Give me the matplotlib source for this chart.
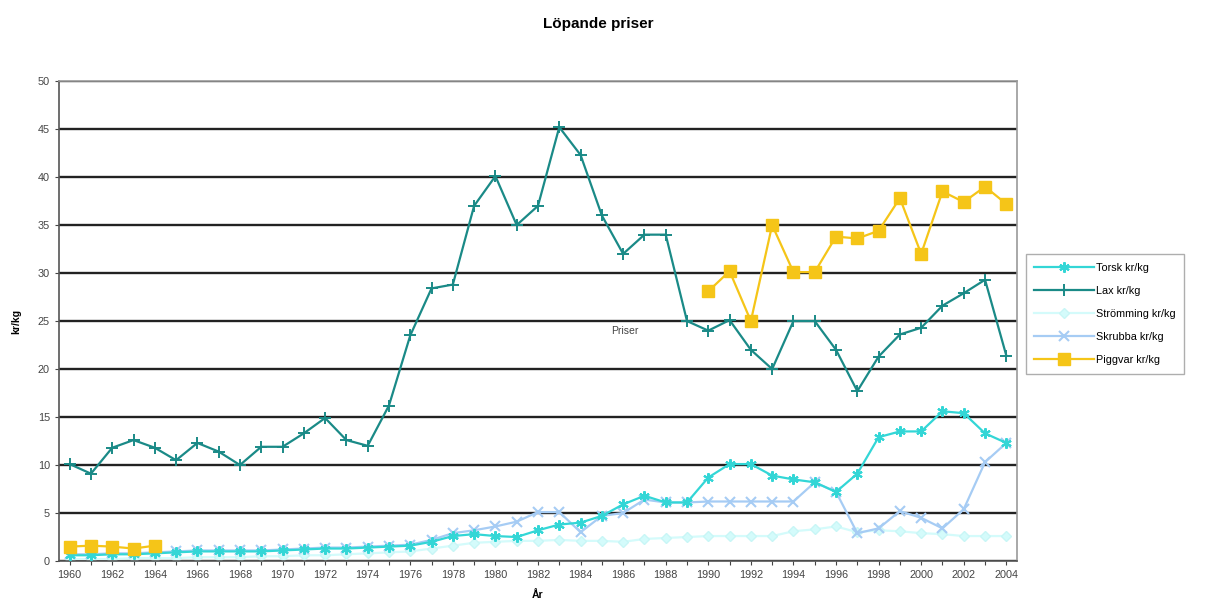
import numpy as np
import matplotlib
matplotlib.use("Agg")
import matplotlib.pyplot as plt

years = list(range(1960, 2005))
nan = np.nan

torsk = [0.6, 0.6, 0.7, 0.7, 0.8, 0.9, 1.0, 1.0, 1.0, 1.0, 1.1, 1.2, 1.3, 1.3, 1.4,
         1.5, 1.6, 2.0, 2.6, 2.8, 2.6, 2.5, 3.2, 3.8, 4.0, 4.7, 5.9, 6.8, 6.1, 6.1,
         8.7, 10.1, 10.1, 8.9, 8.5, 8.2, 7.2, 9.1, 12.9, 13.5, 13.5, 15.6, 15.4, 13.3, 12.3]
lax = [10.1, 9.1, 11.8, 12.6, 11.8, 10.5, 12.3, 11.4, 10.0, 11.9, 11.9, 13.3, 14.9, 12.6, 12.0,
       16.2, 23.5, 28.4, 28.8, 37.0, 40.1, 35.0, 37.0, 45.2, 42.3, 36.0, 32.0, 34.0, 34.0, 25.0,
       24.0, 25.1, 22.0, 20.0, 25.0, 25.0, 22.0, 17.7, 21.3, 23.6, 24.3, 26.6, 27.9, 29.3, 21.4]
stromming = [0.2, 0.2, 0.2, 0.3, 0.3, 0.3, 0.4, 0.4, 0.4, 0.5, 0.5, 0.6, 0.6, 0.7, 0.8,
             0.9, 1.0, 1.3, 1.6, 1.9, 2.0, 2.1, 2.1, 2.2, 2.1, 2.1, 2.0, 2.3, 2.4, 2.5,
             2.6, 2.6, 2.6, 2.6, 3.1, 3.3, 3.6, 3.0, 3.2, 3.1, 2.9, 2.8, 2.6, 2.6, 2.6]
skrubba = [0.7, 0.7, 0.8, 0.8, 0.9, 1.0, 1.1, 1.1, 1.1, 1.1, 1.2, 1.3, 1.4, 1.4, 1.5,
           1.6, 1.7, 2.2, 2.9, 3.2, 3.6, 4.1, 5.1, 5.1, 3.0, 4.7, 5.0, 6.4, 6.1, 6.1,
           6.2, 6.2, 6.2, 6.2, 6.2, 8.2, 7.2, 2.9, 3.4, 5.2, 4.5, 3.4, 5.4, 10.3, 12.3]
piggvar = [1.5, 1.6, 1.5, 1.3, 1.6] + [nan] * 25 + \
          [28.1, 30.2, 25.0, 35.0, 30.1, 30.1, 33.8, 33.6, 34.4, 37.8, 32.0, 38.5, 37.4, 39.0, 37.2]

labels = ["Torsk kr/kg", "Lax kr/kg", "Strömming kr/kg", "Skrubba kr/kg", "Piggvar kr/kg"]
title = "Löpande priser"

plt.rcParams['font.family'] = ['Liberation Sans', 'DejaVu Sans']

fig = plt.figure(figsize=(12.14, 6.05), dpi=100)
ax = fig.add_axes([0.0486, 0.0727, 0.7891, 0.7933])

x = np.arange(len(years))

ax.plot(x, torsk, color="#33D6D6", lw=1.6, marker=(6, 2, 0), ms=7.5, mew=1.5, label=labels[0], zorder=4)
ax.plot(x, lax, color="#1A8A87", lw=1.6, marker="+", ms=8, mew=1.4, label=labels[1], zorder=5)
ax.plot(x, stromming, color="#D4FBFB", lw=1.6, marker="D", ms=5, mec="#C8F6F6", mfc="#D4FBFB", label=labels[2], zorder=2)
ax.plot(x, skrubba, color="#A6CCF4", lw=1.6, marker="x", ms=7, mew=1.5, label=labels[3], zorder=3)
ax.plot(x, piggvar, color="#F5C518", lw=1.6, marker="s", ms=8, mec="#F5C518", mfc="#F5C518", label=labels[4], zorder=6)

ax.set_xlim(-0.5, len(years) - 0.5)
ax.set_ylim(0, 50)
ax.set_yticks(np.arange(0, 51, 5))
ax.set_xticks(x)
ax.set_xticklabels([str(y) if y % 2 == 0 else "" for y in years])
ax.tick_params(axis='both', labelsize=7.8, colors="#444444", length=3, width=0.8)
ax.yaxis.grid(True, color="#222222", lw=1.7)
ax.set_axisbelow(True)
for s in ['top', 'right']:
    ax.spines[s].set_color("#9a9a9a")
    ax.spines[s].set_linewidth(1.2)
ax.spines['left'].set_color("#555555")
ax.spines['bottom'].set_color("#555555")
ax.spines['left'].set_linewidth(1.2)
ax.spines['bottom'].set_linewidth(1.2)

ax.set_ylabel("kr/kg", fontsize=7.5, fontweight='bold', labelpad=12)
ax.set_xlabel("År", fontsize=7.5, fontweight='bold', labelpad=7)
ax.text(26.1, 24.0, "Priser", fontsize=7.5, color="#444444", ha='center', va='center')

fig.suptitle(title, x=0.493, y=0.972, fontsize=11, fontweight='bold')

leg = ax.legend(loc='center left', bbox_to_anchor=(1.009, 0.515), fontsize=7.8, frameon=True,
                fancybox=False, edgecolor="#9a9a9a", handlelength=5.5, labelspacing=1.2,
                borderpad=0.8, handletextpad=0.2, borderaxespad=0.0)
leg.get_frame().set_linewidth(1.0)

fig.savefig("out.png", dpi=100, facecolor="white")
